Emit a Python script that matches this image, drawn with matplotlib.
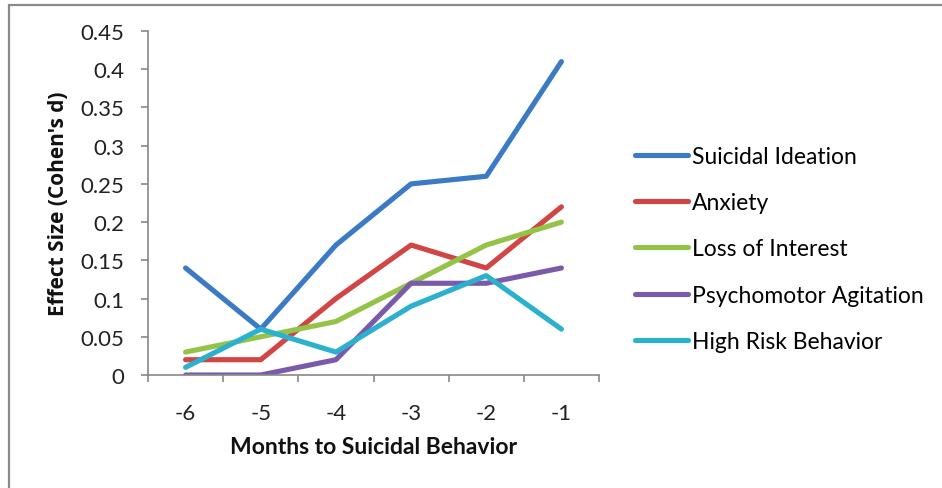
import matplotlib
matplotlib.use("Agg")
import matplotlib.pyplot as plt
from matplotlib.patches import Rectangle

months = ["-6", "-5", "-4", "-3", "-2", "-1"]
suicidal_ideation = [0.14, 0.06, 0.17, 0.25, 0.26, 0.41]
anxiety = [0.02, 0.02, 0.10, 0.17, 0.14, 0.22]
loss_of_interest = [0.03, 0.05, 0.07, 0.12, 0.17, 0.20]
psychomotor_agitation = [0.0, 0.0, 0.02, 0.12, 0.12, 0.14]
high_risk_behavior = [0.01, 0.06, 0.03, 0.09, 0.13, 0.06]

series = [
    ("Suicidal Ideation", suicidal_ideation, "#3B7BC6"),
    ("Anxiety", anxiety, "#D14545"),
    ("Loss of Interest", loss_of_interest, "#93C347"),
    ("Psychomotor Agitation", psychomotor_agitation, "#7C5AAB"),
    ("High Risk Behavior", high_risk_behavior, "#2BB0CE"),
]

plt.rcParams["font.family"] = ["Lato", "DejaVu Sans"]

fig = plt.figure(figsize=(9.42, 4.89), dpi=100)
# chart area frame (open on the right and bottom)
fig.patches.append(Rectangle((9 / 942, -0.05), 1.1, 1 - 6 / 489 + 0.05,
                             transform=fig.transFigure, fill=False,
                             edgecolor="#8a8a8a", linewidth=1.6))

ax = fig.add_axes([148 / 942, 1 - 376 / 489, (599 - 148) / 942, (376 - 32) / 489])

x = list(range(1, len(months) + 1))
for name, vals, col in series:
    ax.plot(x, vals, color=col, lw=3.7, label=name,
            solid_capstyle="round", solid_joinstyle="round")

ax.set_xlim(0.5, 6.5)
ax.set_ylim(0, 0.45)
ax.set_yticks([i * 0.05 for i in range(10)])
ax.set_yticklabels(["0", "0.05", "0.1", "0.15", "0.2", "0.25", "0.3", "0.35", "0.4", "0.45"])
ax.set_xticks(x)
ax.set_xticklabels(months)
ax.set_xticks([i + 0.5 for i in range(0, 7)], minor=True)
ax.tick_params(axis="x", which="major", length=0, pad=20, labelsize=16, colors="#222222")
ax.tick_params(axis="x", which="minor", length=5, direction="out", color="#888888", width=1.2)
ax.tick_params(axis="y", length=5, direction="out", color="#888888", width=1.2,
               labelsize=16, labelcolor="#222222", pad=12)

for s in ["top", "right"]:
    ax.spines[s].set_visible(False)
for s in ["left", "bottom"]:
    ax.spines[s].set_color("#888888")
    ax.spines[s].set_linewidth(1.2)

ax.set_xlabel("Months to Suicidal Behavior", fontsize=16.5, fontweight="bold", color="#111111")
ax.xaxis.set_label_coords(0.5, -0.178)
ax.set_ylabel("Effect Size (Cohen's d)", fontsize=15, fontweight="bold", color="#111111",
              family=["Open Sans", "DejaVu Sans"])
ax.yaxis.set_label_coords(-0.175, 0.5)

ax.legend(loc="upper left", bbox_to_anchor=(635 / 942, 1 - 147 / 489),
          bbox_transform=fig.transFigure, frameon=False, fontsize=16.5,
          handlelength=2.3, handletextpad=0.17, labelspacing=1.1,
          borderpad=0, borderaxespad=0)

fig.savefig("out.png", dpi=100)
